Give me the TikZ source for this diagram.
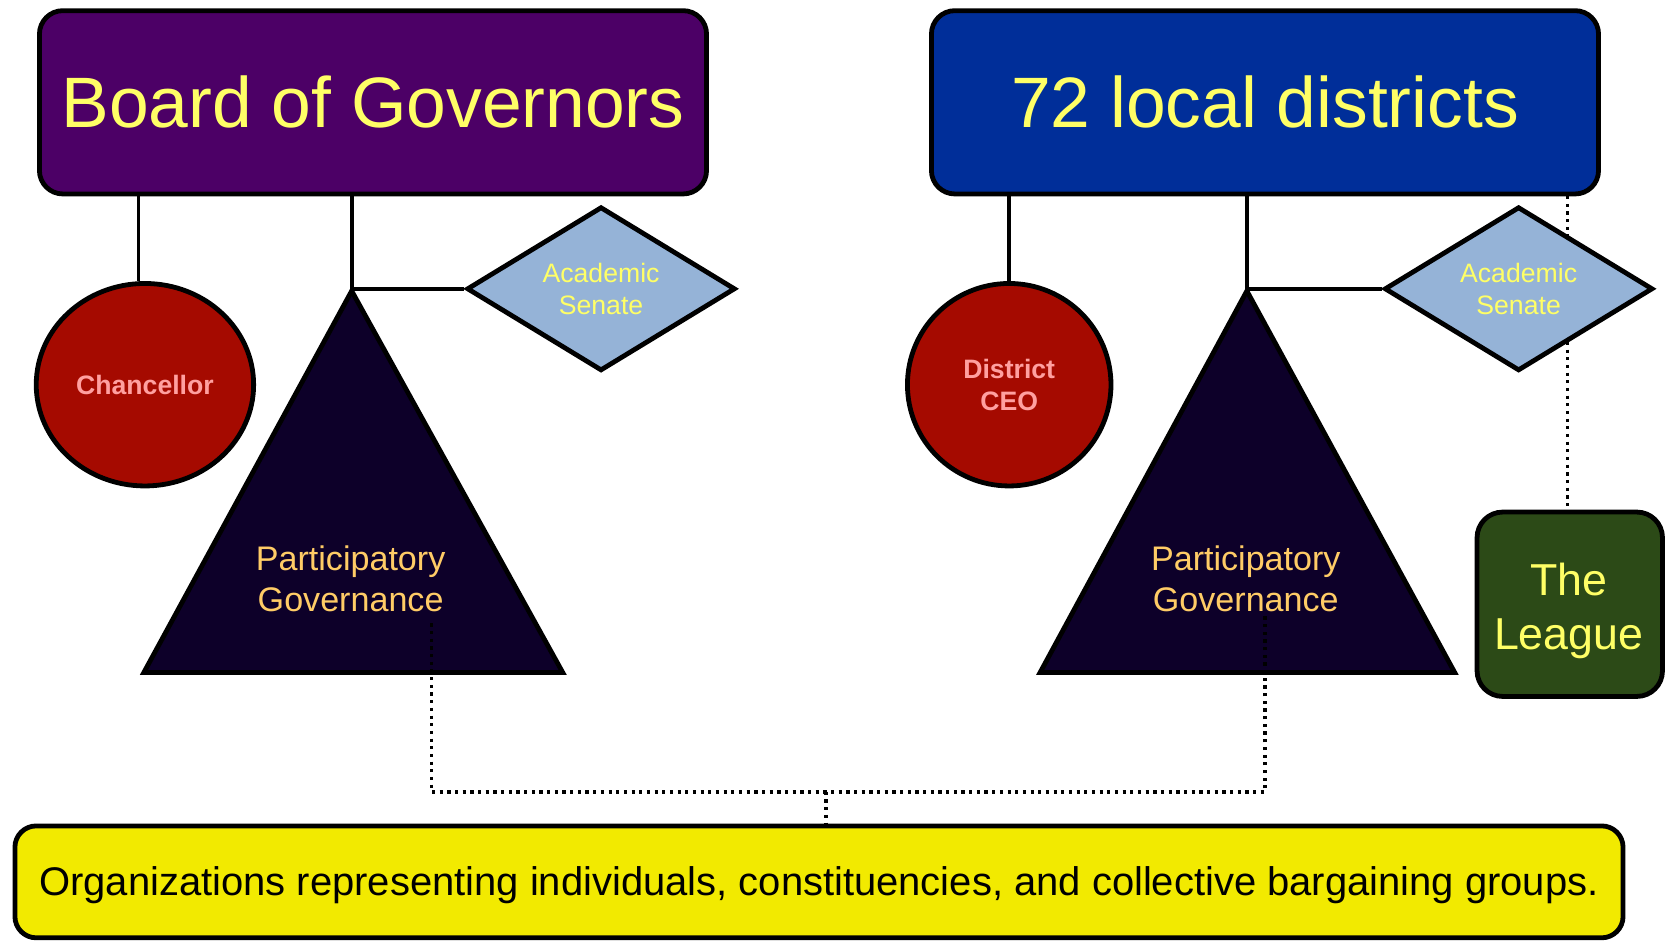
\documentclass[tikz,border=0pt]{standalone}
\usepackage{fontspec}
\setmainfont{Liberation Sans}
\usetikzlibrary{shapes.geometric,calc}
\definecolor{bogpurple}{HTML}{4C0066}
\definecolor{distblue}{HTML}{002E99}
\definecolor{execred}{HTML}{A50A00}
\definecolor{execpink}{HTML}{FFA0A0}
\definecolor{senblue}{HTML}{95B3D7}
\definecolor{txtyellow}{HTML}{FFFF66}
\definecolor{trinavy}{HTML}{0D0029}
\definecolor{triorange}{HTML}{FFCC66}
\definecolor{leaguegreen}{HTML}{2C4A17}
\definecolor{orgyellow}{HTML}{F2EA00}
\tikzset{
  bigbox/.style={draw=black, line width=4.5pt, rounded corners=22pt, minimum width=626pt, minimum height=172pt, inner sep=0pt, text=txtyellow, font=\fontsize{67}{80}\selectfont},
  execell/.style={ellipse, draw=black, line width=4.5pt, fill=execred, inner sep=0pt, text=execpink, align=center, font=\fontsize{25}{30}\selectfont\bfseries},
  sendia/.style={diamond, draw=black, line width=4.5pt, fill=senblue, inner sep=0pt, text=txtyellow, align=center, font=\fontsize{25}{30}\selectfont},
  tritxt/.style={text=triorange, align=center, font=\fontsize{32}{39}\selectfont},
  tri/.style={draw=black, line width=4.5pt, fill=trinavy, line join=miter},
  conn/.style={draw=black, line width=3.5pt},
  dotconn/.style={draw=black, line width=3.2pt, dash pattern=on 3pt off 4.2pt},
}
\begin{document}
\begin{tikzpicture}[x=1pt,y=-1pt]
\useasboundingbox (0,0) rectangle (1568,883);
\fill[white] (0,0) rectangle (1568,883);

% dotted line behind diamond to the League
\coordinate (dtop) at (1471,184);
\coordinate (dbot) at (1471,479);
\draw[dotconn] (dtop) -- (dbot);

% top boxes
\node[bigbox, fill=bogpurple] (board) at (350,96) {Board of Governors};
\node[bigbox, fill=distblue] (dist) at (1187,96) {72 local districts};

% executives
\node[execell, minimum width=204pt, minimum height=190pt] (chanc) at (136,361) {Chancellor};
\node[execell, minimum width=191pt, minimum height=190pt] (ceo) at (947,361) {District\\CEO};

% triangles
\coordinate (t1a) at (330,273);
\coordinate (t1l) at (135,631);
\coordinate (t1r) at (528,631);
\draw[tri] (t1a) -- (t1l) -- (t1r) -- cycle;
\node[tritxt] (pg1) at (329,543) {Participatory\\Governance};
\coordinate (t2a) at (1170,273);
\coordinate (t2l) at (976,631);
\coordinate (t2r) at (1365,631);
\draw[tri] (t2a) -- (t2l) -- (t2r) -- cycle;
\node[tritxt] (pg2) at (1169,543) {Participatory\\Governance};

% senates
\node[sendia, minimum width=252pt, minimum height=154pt, aspect=1.64] (sen1) at (564,271) {Academic\\Senate};
\node[sendia, minimum width=252pt, minimum height=154pt, aspect=1.64] (sen2) at (1425,271) {Academic\\Senate};

% the league
\node[draw=black, line width=4.5pt, fill=leaguegreen, rounded corners=24pt, minimum width=174pt, minimum height=173pt, inner sep=0pt, text=txtyellow, align=center, font=\fontsize{42}{51}\selectfont] (league) at (1473,567) {};
\node[text=txtyellow, align=center, font=\fontsize{42}{51}\selectfont] (leaguetxt) at (1472,573) {The\\League};

% organizations
\node[draw=black, line width=4.5pt, fill=orgyellow, rounded corners=20pt, minimum width=1509pt, minimum height=105pt, inner sep=0pt] (orgs) at (768.5,827.5) {};
\node[font=\fontsize{37.5}{45}\selectfont] (orgstxt) at (768.5,831) {Organizations representing individuals, constituencies, and collective bargaining groups.};

% solid connectors
\draw[conn] ([xshift=-6pt]chanc.north |- board.south) -- ([xshift=-6pt]chanc.north);
\draw[conn] (t1a |- board.south) -- (t1a);
\draw[conn] (t1a |- sen1.west) -- (sen1.west);
\draw[conn] (ceo.north |- board.south) -- (ceo.north);
\draw[conn] (t2a |- board.south) -- (t2a);
\draw[conn] (t2a |- sen2.west) -- (sen2.west);

% dotted connectors to organizations
\coordinate (p1) at (405,585);
\coordinate (p2) at (1187,577);
\coordinate (jn) at (775,743);
\draw[dotconn] (p1) -- (p1 |- jn) -- (p2 |- jn) -- (p2);
\draw[dotconn] (jn) -- (jn |- orgs.north);
\end{tikzpicture}
\end{document}
